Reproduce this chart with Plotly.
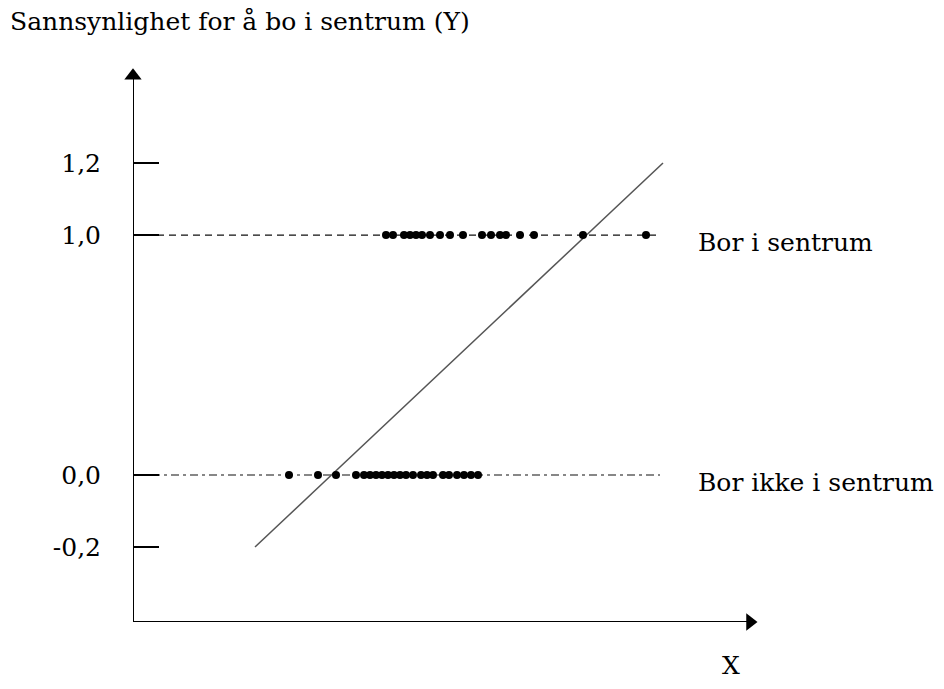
import plotly.graph_objects as go

# ---- data (x in arbitrary schematic units, Y = 1 bor i sentrum, 0 bor ikke) ----
X_BOR_I_SENTRUM = [50.6, 52.0, 54.2, 55.4, 56.6, 57.8, 59.4, 61.4, 63.4, 66.0,
                   69.8, 71.6, 73.4, 74.6, 77.4, 80.2, 90.0, 102.6]
Y_BOR_I_SENTRUM = [1] * len(X_BOR_I_SENTRUM)
X_BOR_IKKE = [31.2, 37.0, 40.6, 44.6, 46.2, 47.4, 48.6, 49.8, 51.0, 52.2, 53.4,
              54.6, 56.0, 57.6, 58.8, 60.0, 62.0, 63.2, 64.8, 66.2, 67.6, 69.0]
Y_BOR_IKKE = [0] * len(X_BOR_IKKE)
# linear probability model line (end points)
LINE_X = [24.4, 106.0]
LINE_Y = [-0.2, 1.2]
# reference lines
REF_X = [0.0, 105.4]
Y_TICKS = [-0.2, 0.0, 1.0, 1.2]
Y_TICK_LABELS = ["-0,2", "0,0", "1,0", "1,2"]
TITLE_Y = "Sannsynlighet for å bo i sentrum (Y)"
TITLE_X = "X"
LABEL_1 = "Bor i sentrum"
LABEL_0 = "Bor ikke i sentrum"


def disp(y):
    """Schematic y scale of the drawing: values outside [0, 1] are stretched."""
    if y < 0:
        return 1.5 * y
    if y > 1:
        return 1 + 1.5 * (y - 1)
    return y


X_MIN, X_MAX = 0.0, 125.0
Y_MIN, Y_MAX = -0.6125, 1.696
FONT = "DejaVu Serif"

fig = go.Figure()

# reference lines at Y=1 (dashed) and Y=0 (dash-dot)
fig.add_trace(go.Scatter(x=REF_X, y=[disp(1.0)] * 2, mode="lines",
                         line=dict(color="#111", width=1.2, dash="7px,5px"),
                         hoverinfo="skip"))
fig.add_trace(go.Scatter(x=REF_X, y=[disp(0.0)] * 2, mode="lines",
                         line=dict(color="#111", width=1.2, dash="8px,4px,3px,4px"),
                         hoverinfo="skip"))
# regression line
fig.add_trace(go.Scatter(x=LINE_X, y=[disp(v) for v in LINE_Y], mode="lines",
                         line=dict(color="#555", width=1.5), hoverinfo="skip"))
# observations
fig.add_trace(go.Scatter(x=X_BOR_I_SENTRUM, y=[disp(v) for v in Y_BOR_I_SENTRUM],
                         mode="markers", marker=dict(color="black", size=8)))
fig.add_trace(go.Scatter(x=X_BOR_IKKE, y=[disp(v) for v in Y_BOR_IKKE],
                         mode="markers", marker=dict(color="black", size=8)))

# axes drawn as lines with arrow heads
fig.add_trace(go.Scatter(x=[X_MIN, X_MIN], y=[Y_MIN, Y_MAX - 0.03], mode="lines",
                         line=dict(color="black", width=2), hoverinfo="skip",
                         cliponaxis=False))
fig.add_trace(go.Scatter(x=[X_MIN, X_MAX - 1.5], y=[Y_MIN, Y_MIN], mode="lines",
                         line=dict(color="black", width=2), hoverinfo="skip",
                         cliponaxis=False))
fig.add_trace(go.Scatter(x=[X_MIN], y=[Y_MAX - 0.032], mode="markers",
                         marker=dict(symbol="triangle-up", size=15, color="black"),
                         hoverinfo="skip", cliponaxis=False))
fig.add_trace(go.Scatter(x=[X_MAX - 1.6], y=[Y_MIN], mode="markers",
                         marker=dict(symbol="triangle-right", size=15, color="black"),
                         hoverinfo="skip", cliponaxis=False))

# plot area in page pixels (body has an 8px margin)
L, T, W, H = 125, 60, 625, 554
annot_font = dict(family=FONT, size=25, color="black")


def px_to_paper(px, py):
    # page coordinates (reference image) -> paper coordinates
    return ((px - 8 - L) / W, 1 - (py - 8 - T) / H)


tx, ty = px_to_paper(8, 22)
fig.add_annotation(x=tx, y=ty, xref="paper", yref="paper", text=TITLE_Y,
                   showarrow=False, xanchor="left", yanchor="middle", font=annot_font)
tx, ty = px_to_paper(731, 665)
fig.add_annotation(x=tx, y=ty, xref="paper", yref="paper", text=TITLE_X,
                   showarrow=False, xanchor="center", yanchor="middle", font=annot_font)
fig.add_annotation(x=112.6, y=disp(1.0) - 0.03, xref="x", yref="y", text=LABEL_1,
                   showarrow=False, xanchor="left", yanchor="middle", font=annot_font)
fig.add_annotation(x=112.6, y=disp(0.0) - 0.033, xref="x", yref="y", text=LABEL_0,
                   showarrow=False, xanchor="left", yanchor="middle", font=annot_font)

fig.update_layout(
    width=944, height=689,
    margin=dict(l=L, r=944 - L - W, t=T, b=689 - T - H),
    plot_bgcolor="white", paper_bgcolor="white",
    showlegend=False,
    xaxis=dict(range=[X_MIN, X_MAX], showgrid=False, zeroline=False,
               showline=False, showticklabels=False, ticks=""),
    yaxis=dict(range=[Y_MIN, Y_MAX], showgrid=False, zeroline=False,
               showline=False,
               tickvals=[disp(v) for v in Y_TICKS], ticktext=Y_TICK_LABELS,
               ticks="inside", ticklen=26, tickwidth=2, tickcolor="black",
               ticklabelstandoff=31,
               tickfont=dict(family=FONT, size=25, color="black")),
)

fig.write_html("out.html")
